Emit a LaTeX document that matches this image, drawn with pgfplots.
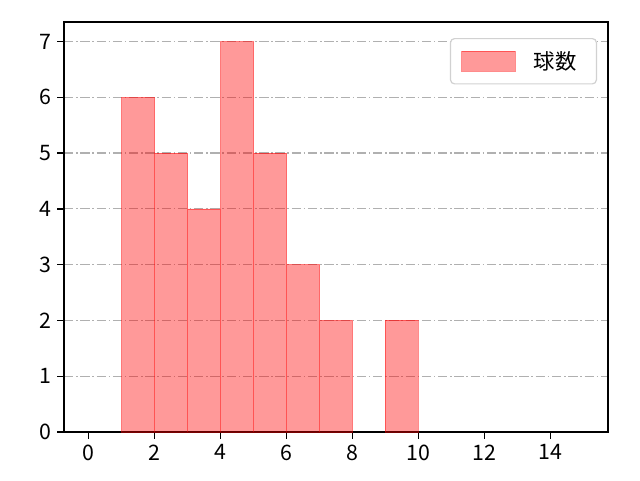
\documentclass[border=0pt]{standalone}
\usepackage{pgfplots}
\pgfplotsset{compat=1.18}
\usepackage{fontspec}
\setmainfont{Noto Sans CJK JP}
\begin{document}
\begin{tikzpicture}[x=0.75pt,y=0.75pt]
% canvas of 640x480 px, axes box at (64,22)-(608,432)
\path[use as bounding box] (-64,-48) rectangle (576,432);
\begin{axis}[
    at={(0,0)}, anchor=south west,
    scale only axis,
    width=408pt, height=307.5pt,
    xmin=-0.75, xmax=15.75,
    ymin=0, ymax=7.35,
    xtick={0,2,...,14},
    ytick={0,1,...,7},
    tick align=outside,
    major tick length=5pt,
    xtick pos=bottom, ytick pos=left,
    tick style={black, line width=1pt},
    axis line style={line width=1.1pt},
    ticklabel style={font=\fontsize{16pt}{18pt}\selectfont},
    xticklabel style={yshift=-1pt},
    yticklabel style={xshift=-1pt},
    /pgf/number format/assume math mode=true,
    ymajorgrids,
    major grid style={color=black!31, line width=0.9pt, dash pattern=on 7pt off 2pt on 1.2pt off 2pt},
    legend style={at={(399.75pt,295.5pt)}, anchor=north east, draw=black!18, line width=0.9pt,
        rounded corners=3pt,
        font=\fontsize{16pt}{18pt}\selectfont, inner xsep=8pt, inner ysep=7.5pt},
    legend cell align=left,
]
\addplot[ybar interval, fill=red, fill opacity=0.4, draw=red, draw opacity=0.45,
    area legend,
    legend image code/.code={\fill[sharp corners, red, fill opacity=0.4, draw=red, draw opacity=0.45] (-8pt,-7.5pt) rectangle (32pt,7.5pt);}]
coordinates {
    (1,6) (2,5) (3,4) (4,7) (5,5) (6,3) (7,2) (8,0)
};
\addlegendentry{\hspace{11.5pt}球数\rule{5pt}{0pt}}
\addplot[ybar interval, fill=red, fill opacity=0.4, draw=red, draw opacity=0.45, forget plot]
coordinates {
    (9,2) (10,2)
};
\end{axis}
\end{tikzpicture}
\end{document}
